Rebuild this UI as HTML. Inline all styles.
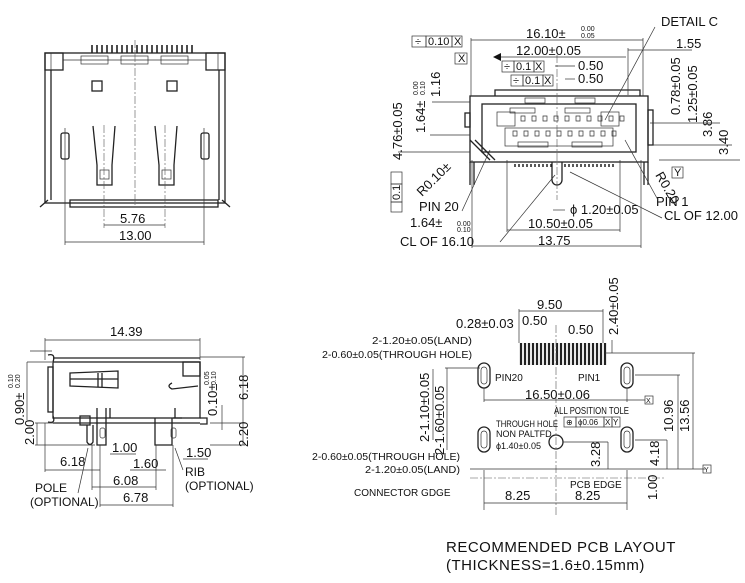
<!DOCTYPE html>
<html><head><meta charset="utf-8"><style>
html,body{margin:0;padding:0;background:#fff}
svg{display:block}
text{font-family:"Liberation Sans",sans-serif;fill:#111}
.l{stroke:#222;stroke-width:1.3;fill:none}
.t{stroke:#333;stroke-width:0.7;fill:none}
.d{stroke:#555;stroke-width:0.6;fill:none;stroke-dasharray:8 2 2 2}
</style></head><body>
<svg width="745" height="583" viewBox="0 0 745 583" xmlns="http://www.w3.org/2000/svg">
<!-- ===== TOP-LEFT FRONT VIEW ===== -->
<g>
<rect class="l" x="45" y="53" width="180" height="150"/>
<rect class="l" x="45" y="53" width="18" height="17"/>
<rect class="l" x="206" y="53" width="19" height="17"/>
<line class="t" x1="51" y1="53" x2="51" y2="70"/><line class="t" x1="218" y1="53" x2="218" y2="70"/>
<line class="l" x1="51" y1="70" x2="51" y2="200"/><line class="l" x1="219" y1="70" x2="219" y2="200"/>
<line class="t" x1="63" y1="60" x2="206" y2="60"/>
<g class="t">
<rect x="81" y="56" width="27" height="8"/><rect x="121" y="56" width="27" height="8"/><rect x="161" y="56" width="27" height="8"/>
</g>
<g stroke="#222" stroke-width="1.6">
<path d="M92 45v8M97 45v8M102 45v8M107 45v8M112 45v8M117 45v8M122 45v8M127 45v8M132 45v8M137 45v8M142 45v8M147 45v8M152 45v8M157 45v8M162 45v8M167 45v8M172 45v8M177 45v8M182 45v8M187 45v8M192 45v8"/>
</g>
<rect class="l" x="92" y="81" width="10" height="10"/><rect class="l" x="167" y="81" width="10" height="10"/>
<rect class="l" x="61" y="133" width="8" height="26" rx="2"/><rect class="l" x="201" y="133" width="8" height="26" rx="2"/>
<path class="l" d="M93 126 L97 165 V185 H112 V165 L115 126"/>
<path class="l" d="M155 126 L159 165 V185 H174 V165 L177 126"/>
<rect class="t" x="100" y="170" width="9" height="9"/><rect class="t" x="162" y="170" width="9" height="9"/>
<path class="l" d="M40 207 L48 200 M230 207 L222 200"/>
<rect class="l" x="70" y="200" width="148" height="7"/>
<line class="d" x1="135" y1="40" x2="135" y2="205"/>
<line class="d" x1="104" y1="125" x2="104" y2="228"/><line class="d" x1="165" y1="125" x2="165" y2="228"/>
<line class="t" x1="65" y1="128" x2="65" y2="245"/><line class="t" x1="204" y1="128" x2="204" y2="245"/>
<line class="t" x1="104" y1="225" x2="165" y2="225"/>
<line class="t" x1="65" y1="242" x2="204" y2="242"/>
<text x="120" y="223" font-size="13">5.76</text>
<text x="119" y="240" font-size="13">13.00</text>
</g>

<!-- ===== TOP-RIGHT FRONT DIM VIEW ===== -->
<g>
<path class="l" d="M495 96 V90 H640 V96"/>
<rect class="l" x="470" y="96" width="178" height="66"/>
<rect class="l" x="482" y="104" width="154" height="48"/>
<rect class="t" x="497" y="112" width="18" height="14"/>
<rect class="t" x="601" y="112" width="18" height="14"/>
<rect class="t" x="505" y="128" width="108" height="18"/>
<rect class="t" x="525" y="98" width="20" height="5"/><rect class="t" x="575" y="98" width="20" height="5"/>
<rect class="t" x="510" y="108" width="25" height="5"/><rect class="t" x="565" y="108" width="25" height="5"/>
<rect class="t" x="518" y="142" width="30" height="5"/><rect class="t" x="572" y="142" width="30" height="5"/>
<g class="t">
<path d="M521 116h4v5h-4z M532 116h4v5h-4z M543 116h4v5h-4z M554 116h4v5h-4z M565 116h4v5h-4z M576 116h4v5h-4z M587 116h4v5h-4z M598 116h4v5h-4z M609 116h4v5h-4z M620 116h4v5h-4z"/>
<path d="M513 131h4v5h-4z M524 131h4v5h-4z M535 131h4v5h-4z M546 131h4v5h-4z M557 131h4v5h-4z M568 131h4v5h-4z M579 131h4v5h-4z M590 131h4v5h-4z M601 131h4v5h-4z M612 131h4v5h-4z"/>
</g>
<path class="l" d="M470 140 L490 160 M475 140 L495 160"/>
<rect class="l" x="465" y="113" width="5" height="14"/>
<rect class="l" x="648" y="110" width="5" height="35"/>
<line class="l" x1="470" y1="162" x2="470" y2="185"/><line class="l" x1="474" y1="162" x2="474" y2="185"/>
<line class="l" x1="644" y1="162" x2="644" y2="185"/><line class="l" x1="648" y1="162" x2="648" y2="185"/>
<path stroke="#222" stroke-width="1.5" d="M515 164v3M519 164v3M523 164v3M527 164v3M531 164v3M535 164v3M539 164v3M543 164v3M547 164v3M551 164v3M565 164v3M569 164v3M573 164v3M577 164v3M581 164v3M585 164v3M589 164v3M593 164v3M597 164v3M601 164v3M605 164v3M609 164v3M613 164v3"/>
<path class="l" d="M552 162 V180 A5 5 0 0 0 562 180 V162"/>
<line class="d" x1="557" y1="55" x2="557" y2="200"/>
<line class="t" x1="471" y1="40" x2="643" y2="40"/>
<line class="t" x1="471" y1="38" x2="471" y2="96"/><line class="t" x1="643" y1="38" x2="643" y2="96"/>
<line class="t" x1="495" y1="57" x2="626" y2="57"/><path d="M493 57 l8 -4 v8z" fill="#111"/>
<line class="t" x1="628" y1="50" x2="692" y2="50"/><line class="t" x1="628" y1="48" x2="628" y2="95"/>
<line class="t" x1="472" y1="246" x2="641" y2="246"/><line class="t" x1="472" y1="160" x2="472" y2="248"/><line class="t" x1="641" y1="160" x2="641" y2="248"/>
<line class="t" x1="507" y1="230" x2="620" y2="230"/><line class="t" x1="507" y1="160" x2="507" y2="232"/><line class="t" x1="620" y1="160" x2="620" y2="232"/>
<line class="t" x1="553" y1="210" x2="565" y2="210"/>
<text x="526" y="38" font-size="13">16.10±</text><text x="581" y="31" font-size="7">0.00</text><text x="581" y="38" font-size="7">0.05</text>
<text x="661" y="26" font-size="13">DETAIL  C</text><line class="t" x1="655" y1="27" x2="605" y2="120"/>
<text x="516" y="55" font-size="13">12.00±0.05</text>
<text x="676" y="48" font-size="13">1.55</text>
<text x="578" y="70" font-size="13">0.50</text><text x="578" y="83" font-size="13">0.50</text>
<line class="t" x1="555" y1="66" x2="575" y2="66"/><line class="t" x1="565" y1="79" x2="575" y2="79"/>
<g font-size="11"><rect class="t" x="412" y="36" width="14" height="11"/><text x="415" y="45">÷</text><rect class="t" x="426" y="36" width="26" height="11"/><text x="428" y="45">0.10</text><rect class="t" x="452" y="36" width="10" height="11"/><text x="454" y="45">X</text>
<rect class="t" x="455" y="53" width="12" height="11"/><text x="458" y="62">X</text>
<rect class="t" x="502" y="61" width="12" height="11"/><text x="504" y="70">÷</text><rect class="t" x="514" y="61" width="20" height="11"/><text x="516" y="70">0.1</text><rect class="t" x="534" y="61" width="10" height="11"/><text x="535" y="70">X</text>
<rect class="t" x="511" y="75" width="12" height="11"/><text x="513" y="84">÷</text><rect class="t" x="523" y="75" width="20" height="11"/><text x="525" y="84">0.1</text><rect class="t" x="543" y="75" width="10" height="11"/><text x="544" y="84">X</text>
<rect class="t" x="672" y="167" width="11" height="11"/><text x="674" y="176">Y</text>
</g>
<g font-size="13">
<text transform="translate(402,160) rotate(-90)">4.76±0.05</text>
<text transform="translate(425,133) rotate(-90)">1.64±</text>
<text transform="translate(418,95) rotate(-90)" font-size="7">0.00</text><text transform="translate(425,95) rotate(-90)" font-size="7">0.10</text>
<text transform="translate(440,97) rotate(-90)">1.16</text>
<text transform="translate(680,115) rotate(-90)">0.78±0.05</text>
<text transform="translate(697,123) rotate(-90)">1.25±0.05</text>
<text transform="translate(712,137) rotate(-90)">3.86</text>
<text transform="translate(728,155) rotate(-90)">3.40</text>
<text transform="translate(422,197) rotate(-45)">R0.10±</text>
<text transform="translate(655,175) rotate(60)">R0.20</text>
<text x="419" y="211">PIN 20</text>
<text x="656" y="206">PIN 1</text>
<text x="570" y="214">ϕ 1.20±0.05</text>
<text x="664" y="220">CL OF 12.00</text>
<text x="410" y="227">1.64±</text>
<text x="528" y="228">10.50±0.05</text>
<text x="538" y="245">13.75</text>
<text x="400" y="246">CL OF 16.10</text>
</g>
<text x="457" y="226" font-size="7">0.00</text><text x="457" y="232" font-size="7">0.10</text>
<g font-size="11"><rect class="t" x="391" y="172" width="11" height="12"/><rect class="t" x="391" y="184" width="11" height="18"/><rect class="t" x="391" y="202" width="11" height="10"/>
<text transform="translate(400,200) rotate(-90)">0.1</text></g>
<line class="t" x1="398" y1="152" x2="470" y2="152"/><line class="t" x1="430" y1="135" x2="470" y2="135"/>
<line class="t" x1="432" y1="102" x2="470" y2="102"/><line class="t" x1="650" y1="123" x2="720" y2="123"/><line class="t" x1="650" y1="145" x2="732" y2="145"/>
<line class="t" x1="659" y1="160" x2="740" y2="160"/>
<line class="t" x1="462" y1="211" x2="490" y2="150"/><line class="t" x1="500" y1="242" x2="555" y2="175"/><line class="t" x1="662" y1="218" x2="570" y2="172"/><line class="t" x1="658" y1="200" x2="625" y2="140"/>
</g>

<!-- ===== BOTTOM-LEFT SIDE VIEW ===== -->
<g>
<line class="l" x1="53" y1="358" x2="200" y2="358"/>
<rect class="l" x="53" y="362" width="147" height="56"/>
<path class="l" d="M48 355 q8 -2 5 7 M48 422 q8 2 5 -6"/>
<rect class="l" x="48" y="367" width="5" height="45"/>
<path class="l" d="M70 373 L118 371 L118 388 L70 386 Z M70 379 L118 379 M98 373 V388 M102 373 V388"/>
<rect class="l" x="183" y="362" width="17" height="14"/>
<path class="l" d="M172 383 q-6 3 0 6 L198 386"/>
<path class="l" d="M200 418 H207 V424 H200"/>
<line class="l" x1="53" y1="423" x2="200" y2="423"/>
<rect class="l" x="80" y="416" width="10" height="9"/>
<path class="l" d="M87 425 V442 Q90 447 93 442 V425"/>
<path class="l" d="M97 408 V445 H106 V408 M110 408 V418 M155 418 V445 H172 V418 M175 408 V418 M173 418 H182"/>
<rect class="t" x="100" y="428" width="5" height="10" rx="2"/><rect class="t" x="171" y="428" width="5" height="10" rx="2"/>
<line class="t" x1="45" y1="340" x2="200" y2="340"/><line class="t" x1="45" y1="338" x2="45" y2="360"/><line class="t" x1="200" y1="338" x2="200" y2="360"/>
<text x="110" y="336" font-size="13">14.39</text>
<line class="t" x1="30" y1="351" x2="52" y2="351"/><line class="t" x1="27" y1="362" x2="52" y2="362"/><line class="t" x1="27" y1="362" x2="27" y2="420"/>
<line class="t" x1="35" y1="423" x2="95" y2="423"/><line class="t" x1="35" y1="445" x2="95" y2="445"/><line class="t" x1="37" y1="423" x2="37" y2="445"/>
<line class="t" x1="200" y1="357" x2="245" y2="357"/><line class="t" x1="243" y1="357" x2="243" y2="445"/><line class="t" x1="210" y1="423" x2="245" y2="423"/><line class="t" x1="210" y1="445" x2="245" y2="445"/>
<line class="t" x1="222" y1="405" x2="222" y2="430"/>
<g font-size="13">
<text transform="translate(24,425) rotate(-90)">0.90±</text>
<text transform="translate(13,388) rotate(-90)" font-size="7">0.10</text><text transform="translate(20,388) rotate(-90)" font-size="7">0.20</text>
<text transform="translate(34,445) rotate(-90)">2.00</text>
<text transform="translate(217,416) rotate(-90)">0.10±</text>
<text transform="translate(209,385) rotate(-90)" font-size="7">0.05</text><text transform="translate(216,385) rotate(-90)" font-size="7">0.10</text>
<text transform="translate(248,400) rotate(-90)">6.18</text>
<text transform="translate(248,447) rotate(-90)">2.20</text>
<text x="112" y="452">1.00</text>
<text x="186" y="457">1.50</text>
<text x="60" y="466">6.18</text>
<text x="133" y="468">1.60</text>
<text x="113" y="485">6.08</text>
<text x="123" y="502">6.78</text>
</g>
<g font-size="12"><text x="35" y="492">POLE</text><text x="30" y="506">(OPTIONAL)</text>
<text x="185" y="476">RIB</text><text x="185" y="490">(OPTIONAL)</text></g>
<line class="t" x1="45" y1="470" x2="100" y2="470"/><line class="t" x1="45" y1="423" x2="45" y2="472"/>
<line class="t" x1="92" y1="487" x2="156" y2="487"/><line class="t" x1="92" y1="445" x2="92" y2="490"/><line class="t" x1="156" y1="445" x2="156" y2="490"/>
<line class="t" x1="100" y1="505" x2="173" y2="505"/><line class="t" x1="100" y1="445" x2="100" y2="507"/><line class="t" x1="173" y1="445" x2="173" y2="507"/>
<line class="t" x1="110" y1="454" x2="136" y2="454"/><line class="t" x1="130" y1="470" x2="166" y2="470"/><line class="t" x1="183" y1="459" x2="208" y2="459"/>
<line class="t" x1="78" y1="493" x2="88" y2="448"/><line class="t" x1="183" y1="470" x2="175" y2="448"/>
</g>

<!-- ===== BOTTOM-RIGHT PCB LAYOUT ===== -->
<g>
<g stroke="#222" stroke-width="2.2">
<path d="M521 343v22M525 343v22M529 343v22M533 343v22M537 343v22M541 343v22M545 343v22M549 343v22M553 343v22M557 343v22M561 343v22M565 343v22M569 343v22M573 343v22M577 343v22M581 343v22M585 343v22M589 343v22M593 343v22M597 343v22M601 343v22M605 343v22"/>
</g>
<rect class="l" x="478" y="363" width="12" height="25" rx="6"/><rect class="t" x="481" y="367" width="6" height="17" rx="3"/>
<rect class="l" x="621" y="363" width="12" height="25" rx="6"/><rect class="t" x="624" y="367" width="6" height="17" rx="3"/>
<rect class="l" x="478" y="427" width="12" height="25" rx="6"/><rect class="t" x="481" y="431" width="6" height="17" rx="3"/>
<rect class="l" x="621" y="427" width="12" height="25" rx="6"/><rect class="t" x="624" y="431" width="6" height="17" rx="3"/>
<circle class="l" cx="556" cy="442" r="7"/>
<line class="d" x1="556" y1="325" x2="556" y2="515"/>
<line class="t" x1="470" y1="469" x2="705" y2="469"/>
<line class="d" x1="470" y1="478" x2="665" y2="478"/>
<line class="t" x1="484" y1="400" x2="645" y2="400"/><line class="t" x1="484" y1="388" x2="484" y2="402"/><line class="t" x1="627" y1="388" x2="627" y2="402"/>
<line class="t" x1="484" y1="503" x2="627" y2="503"/><line class="t" x1="484" y1="470" x2="484" y2="510"/><line class="t" x1="627" y1="470" x2="627" y2="510"/>
<line class="t" x1="519" y1="311" x2="603" y2="311"/><line class="t" x1="519" y1="309" x2="519" y2="343"/><line class="t" x1="603" y1="309" x2="603" y2="343"/>
<line class="t" x1="605" y1="353" x2="695" y2="353"/><line class="t" x1="693" y1="353" x2="693" y2="469"/>
<line class="t" x1="635" y1="375" x2="680" y2="375"/><line class="t" x1="678" y1="375" x2="678" y2="469"/>
<line class="t" x1="635" y1="440" x2="667" y2="440"/><line class="t" x1="667" y1="440" x2="667" y2="469"/>
<line class="t" x1="563" y1="442" x2="608" y2="442"/><line class="t" x1="608" y1="442" x2="608" y2="469"/>
<line class="t" x1="480" y1="368" x2="445" y2="368"/><line class="t" x1="447" y1="368" x2="447" y2="450"/>
<line class="t" x1="433" y1="369" x2="433" y2="440"/>
<line class="t" x1="612" y1="340" x2="612" y2="353"/>
<rect class="t" x="645" y="396" width="8" height="8"/><text x="646" y="403" font-size="7">X</text>
<rect class="t" x="703" y="465" width="8" height="8"/><text x="704" y="472" font-size="7">Y</text>
<g font-size="13">
<text x="537" y="309">9.50</text>
<text x="456" y="328">0.28±0.03</text>
<text x="522" y="325">0.50</text>
<text x="568" y="334">0.50</text>
<text transform="translate(618,335) rotate(-90)">2.40±0.05</text>
<text x="525" y="399">16.50±0.06</text>
<text transform="translate(429,442) rotate(-90)">2-1.10±0.05</text>
<text transform="translate(444,455) rotate(-90)">2-1.60±0.05</text>
<text transform="translate(600,467) rotate(-90)">3.28</text>
<text transform="translate(659,466) rotate(-90)">4.18</text>
<text transform="translate(673,432) rotate(-90)">10.96</text>
<text transform="translate(689,432) rotate(-90)">13.56</text>
<text transform="translate(657,500) rotate(-90)">1.00</text>
<text x="505" y="500">8.25</text><text x="575" y="500">8.25</text>
</g>
<g font-size="10">
<text x="372" y="344" textLength="100" lengthAdjust="spacingAndGlyphs">2-1.20±0.05(LAND)</text>
<text x="322" y="358" textLength="150" lengthAdjust="spacingAndGlyphs">2-0.60±0.05(THROUGH HOLE)</text>
<text x="495" y="381">PIN20</text>
<text x="578" y="381">PIN1</text>
<text x="554" y="414" textLength="75" lengthAdjust="spacingAndGlyphs">ALL POSITION TOLE</text>
<text x="496" y="427" font-size="9" textLength="62" lengthAdjust="spacingAndGlyphs">THROUGH HOLE</text>
<text x="496" y="437" font-size="9">NON PALTFD</text>
<text x="496" y="449" font-size="9">ϕ1.40±0.05</text>
<text x="312" y="460" textLength="148" lengthAdjust="spacingAndGlyphs">2-0.60±0.05(THROUGH HOLE)</text>
<text x="365" y="473" textLength="95" lengthAdjust="spacingAndGlyphs">2-1.20±0.05(LAND)</text>
<text x="354" y="496">CONNECTOR GDGE</text>
<text x="570" y="488">PCB EDGE</text>
</g>
<g font-size="8"><rect class="t" x="564" y="417" width="12" height="10"/><text x="566" y="425">⊕</text><rect class="t" x="576" y="417" width="28" height="10"/><text x="578" y="425">ϕ0.06</text><rect class="t" x="604" y="417" width="8" height="10"/><text x="605" y="425">X</text><rect class="t" x="612" y="417" width="8" height="10"/><text x="613" y="425">Y</text></g>
<text x="446" y="552" font-size="15" letter-spacing="0.5">RECOMMENDED PCB LAYOUT</text>
<text x="446" y="570" font-size="15" letter-spacing="0.5">(THICKNESS=1.6±0.15mm)</text>
</g>
</svg>
</body></html>
